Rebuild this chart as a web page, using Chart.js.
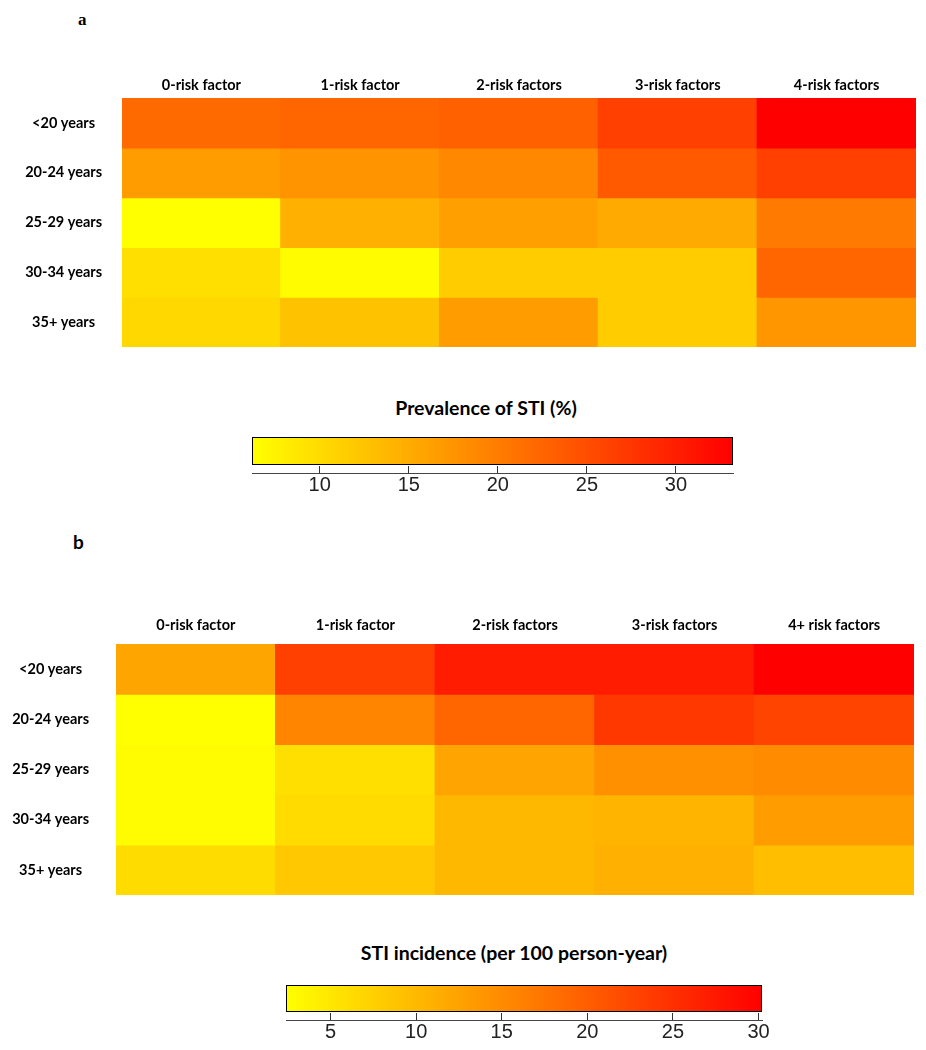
<!DOCTYPE html>
<html>
<head>
<meta charset="utf-8">
<script src="https://cdn.jsdelivr.net/npm/chart.js@4/dist/chart.umd.min.js"></script>
<style>
  body { margin:0; background:#fff; }
  #page { position:relative; width:926px; height:1050px; overflow:hidden; }
  canvas { position:absolute; }
  .lbl { position:absolute; color:#000; line-height:1; white-space:nowrap; }
  .panel-a { font:bold 17px "Liberation Serif", serif; }
  .panel-b { font:bold 19px Lato, sans-serif; }
  .cb-title { font:bold 19.5px Lato, sans-serif; text-align:center; width:400px; }
</style>
</head>
<body>
<div id="page">
  <div class="lbl panel-a" style="left:78px; top:10px;">a</div>
  <canvas id="heat-a" width="926" height="290" style="left:0; top:60px;"></canvas>
  <div class="lbl cb-title" style="left:286px; top:396px;">Prevalence of STI (%)</div>
  <canvas id="bar-a" width="541" height="74" style="left:222px; top:429px;"></canvas>

  <div class="lbl panel-b" style="left:73px; top:530px;">b</div>
  <canvas id="heat-b" width="926" height="300" style="left:0; top:600px;"></canvas>
  <div class="lbl cb-title" style="left:314px; top:941px;">STI incidence (per 100 person-year)</div>
  <canvas id="bar-b" width="536" height="73" style="left:256px; top:977px;"></canvas>
</div>
<script>
// ── data ──
var ageGroups = ['<20 years', '20-24 years', '25-29 years', '30-34 years', '35+ years'];
var riskColsA = ['0-risk factor', '1-risk factor', '2-risk factors', '3-risk factors', '4-risk factors'];
var riskColsB = ['0-risk factor', '1-risk factor', '2-risk factors', '3-risk factors', '4+ risk factors'];

// prevalence of STI (%), rows = age groups, cols = risk factors
var prevalence = [
  [22.0, 22.4, 23.0, 26.4, 33.2],
  [16.7, 17.6, 18.8, 23.7, 26.4],
  [ 6.2, 14.6, 16.3, 15.2, 20.3],
  [ 9.6,  6.5, 11.6, 11.6, 22.4],
  [10.3, 12.7, 16.7, 11.6, 17.3]
];
// STI incidence per 100 person-year
var incidence = [
  [12.2, 23.2, 27.1, 27.2, 30.2],
  [ 2.4, 15.8, 19.1, 24.1, 22.8],
  [ 2.8,  5.9, 12.3, 14.5, 14.9],
  [ 2.8,  6.3, 10.1, 10.6, 13.2],
  [ 6.2,  8.4, 10.1, 11.0,  9.5]
];

var prevRange = [6.2, 33.2];
var prevTicks = [10, 15, 20, 25, 30];
var incRange  = [2.4, 30.2];
var incTicks  = [5, 10, 15, 20, 25, 30];

Chart.defaults.font.family = 'Lato, sans-serif';
Chart.defaults.color = '#000';
Chart.defaults.animation = false;

// yellow -> red ramp
function heatColor(v, range) {
  var t = (v - range[0]) / (range[1] - range[0]);
  t = Math.max(0, Math.min(1, t));
  return 'rgb(255,' + Math.round(255 * (1 - t)) + ',0)';
}

// ── HEATMAP ──
function drawHeat(id, cols, values, range, o) {
  var datasets = ageGroups.map(function(age, r) {
    var c = values[r].map(function(v){ return heatColor(v, range); });
    return {
      label: age, data: values[r].map(function(){ return 1; }),
      backgroundColor: c, borderWidth: 0, inflateAmount: 0.6,
      barPercentage: 1, categoryPercentage: 1, yAxisID: 'yv'
    };
  });
  return new Chart(document.getElementById(id).getContext('2d'), {
    type: 'bar',
    data: { labels: cols, datasets: datasets },
    options: {
      responsive: false,
      layout: { padding: { left: 0, right: o.right, top: 0, bottom: o.bottom } },
      plugins: { legend: { display: false }, tooltip: { enabled: false } },
      scales: {
        x: {
          position: 'top', stacked: true,
          grid: { display: false, drawTicks: false }, border: { display: false },
          ticks: { font: { size: 14.5, weight: 'bold' }, padding: o.colPad, maxRotation: 0 },
          afterFit: function(s){ s.height = o.colH; s.paddingLeft = 0; s.paddingRight = 0; }
        },
        yv: {
          type: 'linear', axis: 'y', display: false, stacked: true,
          min: 0, max: ageGroups.length, reverse: true
        },
        rows: {
          type: 'category', axis: 'y', position: 'left', labels: ageGroups, offset: true,
          grid: { display: false, drawTicks: false }, border: { display: false },
          ticks: { font: { size: 14.5, weight: 'bold' }, crossAlign: 'center', padding: o.rowPad },
          afterFit: function(s){ s.width = o.rowW; s.paddingTop = 0; s.paddingBottom = 0; }
        }
      }
    }
  });
}

// ── COLOUR BAR ──
function drawBar(id, range, ticks, frac) {
  return new Chart(document.getElementById(id).getContext('2d'), {
    type: 'bar',
    data: { labels: [''], datasets: [{
      data: [[range[0], range[1]]],
      backgroundColor: function(ctx) {
        var ca = ctx.chart.chartArea;
        if (!ca) return '#ff0';
        var g = ctx.chart.ctx.createLinearGradient(ca.left, 0, ca.right, 0);
        g.addColorStop(0, 'rgb(255,255,0)');
        g.addColorStop(1, 'rgb(255,0,0)');
        return g;
      },
      borderColor: '#000', borderWidth: 1, borderSkipped: false,
      barPercentage: frac, categoryPercentage: 1
    }]},
    options: {
      indexAxis: 'y', responsive: false,
      layout: { padding: { left: 30, right: 30, top: 0, bottom: 0 } },
      plugins: { legend: { display: false }, tooltip: { enabled: false } },
      scales: {
        y: { display: false },
        x: {
          type: 'linear', min: range[0], max: range[1],
          afterBuildTicks: function(s){ s.ticks = ticks.map(function(v){ return { value: v }; }); },
          grid: { drawOnChartArea: false, drawTicks: true, tickLength: -7, color: '#333' },
          border: { display: true, color: '#444', width: 1 },
          ticks: { font: { family: '"Liberation Sans", Arial, sans-serif', size: 20 }, color: '#222', padding: 7 },
          afterFit: function(s){ s.height = 30; }
        }
      }
    }
  });
}

drawHeat('heat-a', riskColsA, prevalence, prevRange, { right: 10, bottom: 3, colH: 38, colPad: 4, rowW: 122, rowPad: 20 });
drawHeat('heat-b', riskColsB, incidence, incRange, { right: 12, bottom: 5, colH: 44, colPad: 10, rowW: 116, rowPad: 27 });
drawBar('bar-a', prevRange, prevTicks, 28 / 44);
drawBar('bar-b', incRange, incTicks, 27 / 43);
</script>
</body>
</html>
